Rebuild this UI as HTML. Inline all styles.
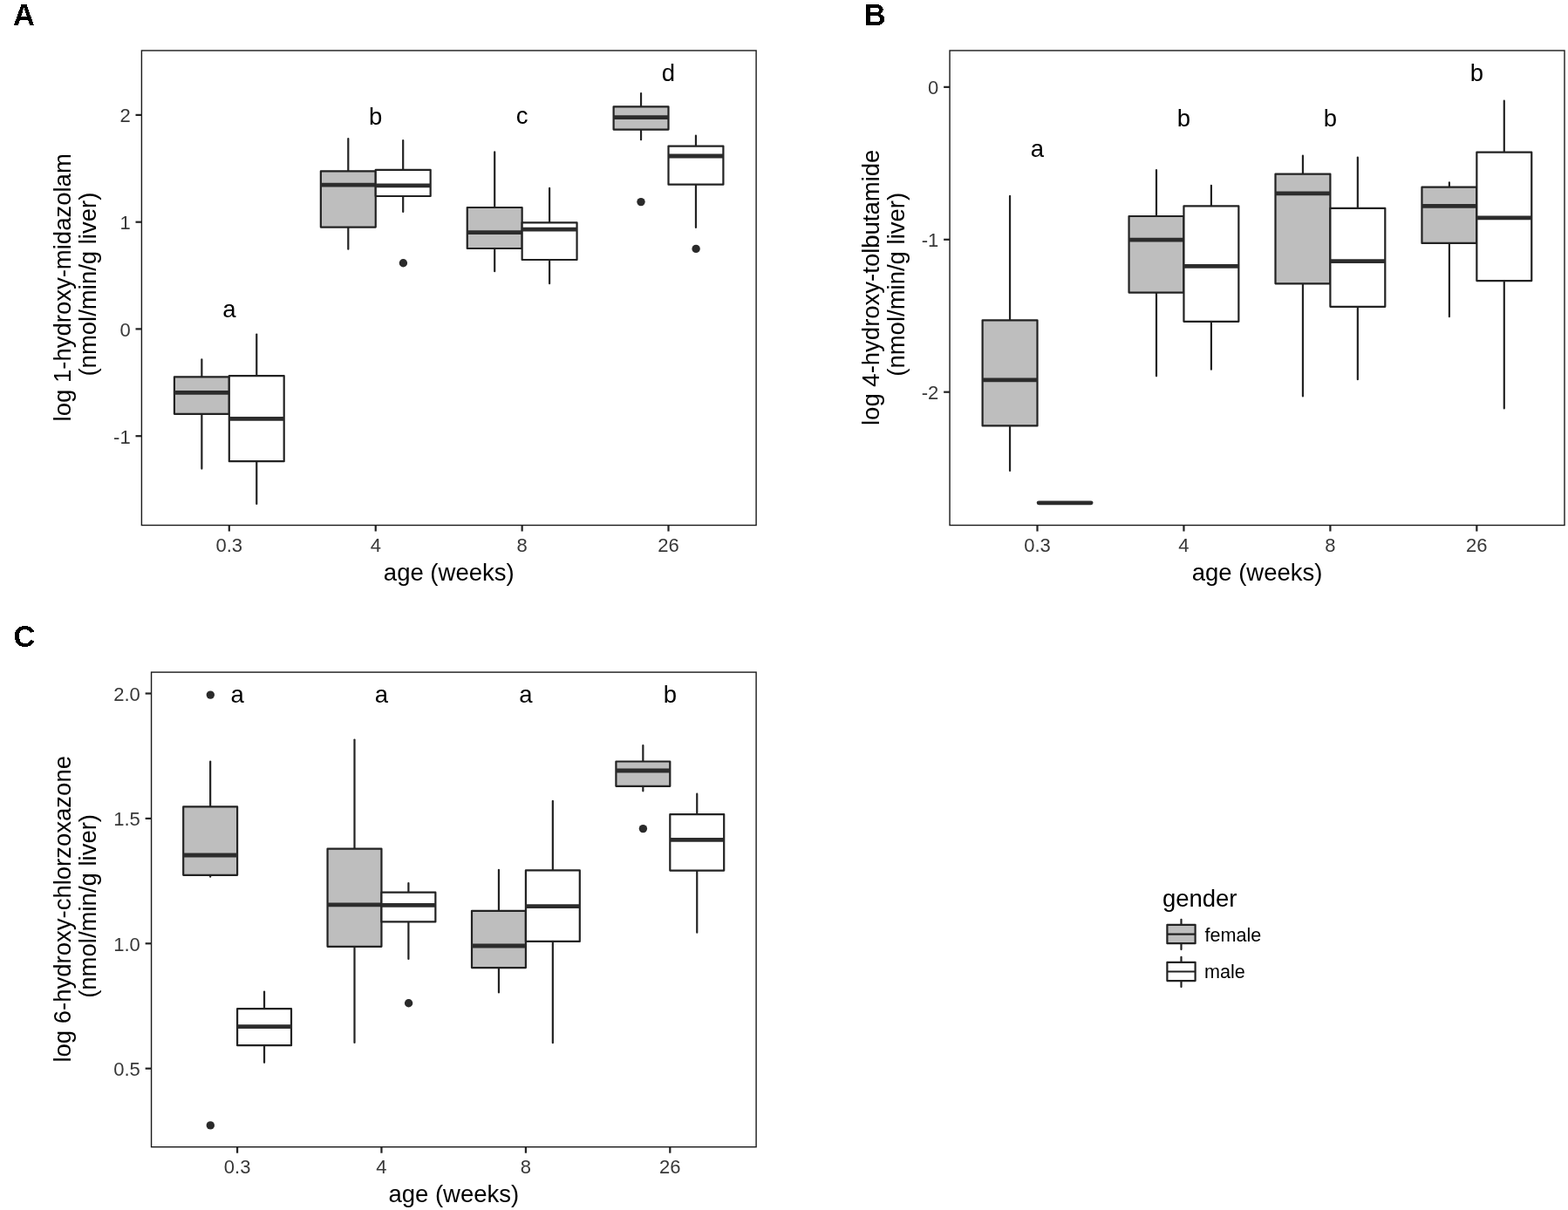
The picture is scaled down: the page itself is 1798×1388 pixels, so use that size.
<!DOCTYPE html>
<html><head><meta charset="utf-8"><title>Boxplots by age and gender</title>
<style>
html,body{margin:0;padding:0;background:#fff;}
svg{display:block;}
svg line, svg rect{stroke:#222222;stroke-width:2.2;}
svg line{stroke-linecap:butt;}
svg line.wh{stroke-linecap:round;}
svg rect{stroke-linejoin:round;}
svg rect.fr{fill:none;stroke-linejoin:miter;stroke:#1a1a1a;stroke-width:1.4;}
svg line.md{stroke-width:4.8;stroke:#2c2c2c;}
svg line.md0{stroke-width:4.8;stroke:#2c2c2c;stroke-linecap:round;}
svg line.lk{stroke-width:2.2;}
svg line.tk{stroke-width:2.2;}
svg circle.pt{fill:#2a2a2a;stroke:none;}
text{font-family:"Liberation Sans",Arial,sans-serif;}
text.yl{font-size:22px;fill:#383838;text-anchor:end;}
text.xl{font-size:22px;fill:#383838;text-anchor:middle;}
text.lt{font-size:27.5px;fill:#000;text-anchor:middle;}
text.ti{font-size:27.5px;fill:#000;text-anchor:middle;}
text.tag{font-size:34.5px;font-weight:bold;fill:#000;filter:url(#alias);}
text.lg{font-size:27.5px;fill:#000;}
text.ll{font-size:21.6px;fill:#000;}
</style></head>
<body>
<svg width="1798" height="1388" viewBox="0 0 1798 1388">
<defs><filter id="alias" x="-10%" y="-10%" width="120%" height="120%"><feComponentTransfer><feFuncA type="discrete" tableValues="0 1"/></feComponentTransfer></filter></defs>
<rect x="0" y="0" width="1798" height="1388" fill="#fff" style="stroke:none"/>
<rect class="fr" x="162.4" y="58.0" width="704.70" height="544.50"/>
<line class="wh" x1="231.35" y1="412.40" x2="231.35" y2="432.40"/>
<line class="wh" x1="231.35" y1="474.80" x2="231.35" y2="537.60"/>
<rect x="199.90" y="432.40" width="62.90" height="42.40" fill="#BEBEBE"/>
<line class="md" x1="199.90" y1="450.40" x2="262.80" y2="450.40"/>
<line class="wh" x1="294.25" y1="383.60" x2="294.25" y2="431.10"/>
<line class="wh" x1="294.25" y1="529.20" x2="294.25" y2="577.90"/>
<rect x="262.80" y="431.10" width="62.90" height="98.10" fill="#FFFFFF"/>
<line class="md" x1="262.80" y1="480.40" x2="325.70" y2="480.40"/>
<line class="wh" x1="399.30" y1="159.00" x2="399.30" y2="196.30"/>
<line class="wh" x1="399.30" y1="260.60" x2="399.30" y2="285.70"/>
<rect x="367.85" y="196.30" width="62.90" height="64.30" fill="#BEBEBE"/>
<line class="md" x1="367.85" y1="212.20" x2="430.75" y2="212.20"/>
<line class="wh" x1="462.20" y1="161.00" x2="462.20" y2="194.80"/>
<line class="wh" x1="462.20" y1="225.00" x2="462.20" y2="242.90"/>
<rect x="430.75" y="194.80" width="62.90" height="30.20" fill="#FFFFFF"/>
<line class="md" x1="430.75" y1="212.90" x2="493.65" y2="212.90"/>
<circle class="pt" cx="462.40" cy="301.80" r="4.7"/>
<line class="wh" x1="567.20" y1="174.40" x2="567.20" y2="238.00"/>
<line class="wh" x1="567.20" y1="285.00" x2="567.20" y2="311.20"/>
<rect x="535.75" y="238.00" width="62.90" height="47.00" fill="#BEBEBE"/>
<line class="md" x1="535.75" y1="266.60" x2="598.65" y2="266.60"/>
<line class="wh" x1="630.10" y1="215.80" x2="630.10" y2="255.30"/>
<line class="wh" x1="630.10" y1="298.00" x2="630.10" y2="325.20"/>
<rect x="598.65" y="255.30" width="62.90" height="42.70" fill="#FFFFFF"/>
<line class="md" x1="598.65" y1="263.10" x2="661.55" y2="263.10"/>
<line class="wh" x1="735.05" y1="107.00" x2="735.05" y2="122.30"/>
<line class="wh" x1="735.05" y1="148.60" x2="735.05" y2="160.20"/>
<rect x="703.60" y="122.30" width="62.90" height="26.30" fill="#BEBEBE"/>
<line class="md" x1="703.60" y1="134.70" x2="766.50" y2="134.70"/>
<circle class="pt" cx="735.00" cy="231.60" r="4.7"/>
<line class="wh" x1="797.95" y1="155.70" x2="797.95" y2="167.60"/>
<line class="wh" x1="797.95" y1="211.70" x2="797.95" y2="261.00"/>
<rect x="766.50" y="167.60" width="62.90" height="44.10" fill="#FFFFFF"/>
<line class="md" x1="766.50" y1="179.00" x2="829.40" y2="179.00"/>
<circle class="pt" cx="798.10" cy="285.40" r="4.7"/>
<line class="tk" x1="155.50" y1="131.90" x2="162.40" y2="131.90"/>
<text class="yl" x="149.65" y="140.40">2</text>
<line class="tk" x1="155.50" y1="254.70" x2="162.40" y2="254.70"/>
<text class="yl" x="149.65" y="263.20">1</text>
<line class="tk" x1="155.50" y1="377.40" x2="162.40" y2="377.40"/>
<text class="yl" x="149.65" y="385.90">0</text>
<line class="tk" x1="155.50" y1="500.20" x2="162.40" y2="500.20"/>
<text class="yl" x="149.65" y="508.70">-1</text>
<line class="tk" x1="262.80" y1="602.50" x2="262.80" y2="609.50"/>
<text class="xl" x="262.80" y="632.60">0.3</text>
<line class="tk" x1="430.75" y1="602.50" x2="430.75" y2="609.50"/>
<text class="xl" x="430.75" y="632.60">4</text>
<line class="tk" x1="598.65" y1="602.50" x2="598.65" y2="609.50"/>
<text class="xl" x="598.65" y="632.60">8</text>
<line class="tk" x1="766.50" y1="602.50" x2="766.50" y2="609.50"/>
<text class="xl" x="766.50" y="632.60">26</text>
<text class="lt" x="262.80" y="363.50">a</text>
<text class="lt" x="430.75" y="142.60">b</text>
<text class="lt" x="598.65" y="142.40">c</text>
<text class="lt" x="766.50" y="93.00">d</text>
<text class="ti" x="514.75" y="666.20">age (weeks)</text>
<text class="ti" transform="translate(80.60,329.80) rotate(-90)">log 1-hydroxy-midazolam</text>
<text class="ti" transform="translate(110.40,326.10) rotate(-90)">(nmol/min/g liver)</text>
<rect class="fr" x="1089.05" y="58.0" width="704.95" height="544.50"/>
<line class="wh" x1="1158.05" y1="224.90" x2="1158.05" y2="367.30"/>
<line class="wh" x1="1158.05" y1="488.40" x2="1158.05" y2="540.00"/>
<rect x="1126.60" y="367.30" width="62.90" height="121.10" fill="#BEBEBE"/>
<line class="md" x1="1126.60" y1="435.80" x2="1189.50" y2="435.80"/>
<rect x="1189.50" y="576.50" width="62.90" height="0.00" fill="#FFFFFF"/>
<line class="md0" x1="1191.10" y1="576.80" x2="1251.10" y2="576.80"/>
<line class="wh" x1="1326.00" y1="195.10" x2="1326.00" y2="248.00"/>
<line class="wh" x1="1326.00" y1="335.60" x2="1326.00" y2="431.30"/>
<rect x="1294.55" y="248.00" width="62.90" height="87.60" fill="#BEBEBE"/>
<line class="md" x1="1294.55" y1="275.20" x2="1357.45" y2="275.20"/>
<line class="wh" x1="1388.90" y1="212.80" x2="1388.90" y2="236.40"/>
<line class="wh" x1="1388.90" y1="368.80" x2="1388.90" y2="423.70"/>
<rect x="1357.45" y="236.40" width="62.90" height="132.40" fill="#FFFFFF"/>
<line class="md" x1="1357.45" y1="305.30" x2="1420.35" y2="305.30"/>
<line class="wh" x1="1493.95" y1="178.70" x2="1493.95" y2="199.60"/>
<line class="wh" x1="1493.95" y1="325.30" x2="1493.95" y2="454.40"/>
<rect x="1462.50" y="199.60" width="62.90" height="125.70" fill="#BEBEBE"/>
<line class="md" x1="1462.50" y1="221.90" x2="1525.40" y2="221.90"/>
<line class="wh" x1="1556.85" y1="180.60" x2="1556.85" y2="238.80"/>
<line class="wh" x1="1556.85" y1="351.80" x2="1556.85" y2="435.20"/>
<rect x="1525.40" y="238.80" width="62.90" height="113.00" fill="#FFFFFF"/>
<line class="md" x1="1525.40" y1="299.70" x2="1588.30" y2="299.70"/>
<line class="wh" x1="1661.90" y1="209.40" x2="1661.90" y2="214.70"/>
<line class="wh" x1="1661.90" y1="278.90" x2="1661.90" y2="363.20"/>
<rect x="1630.45" y="214.70" width="62.90" height="64.20" fill="#BEBEBE"/>
<line class="md" x1="1630.45" y1="236.40" x2="1693.35" y2="236.40"/>
<line class="wh" x1="1724.80" y1="115.70" x2="1724.80" y2="174.60"/>
<line class="wh" x1="1724.80" y1="322.10" x2="1724.80" y2="468.40"/>
<rect x="1693.35" y="174.60" width="62.90" height="147.50" fill="#FFFFFF"/>
<line class="md" x1="1693.35" y1="249.90" x2="1756.25" y2="249.90"/>
<line class="tk" x1="1082.15" y1="99.85" x2="1089.05" y2="99.85"/>
<text class="yl" x="1076.30" y="108.35">0</text>
<line class="tk" x1="1082.15" y1="274.80" x2="1089.05" y2="274.80"/>
<text class="yl" x="1076.30" y="283.30">-1</text>
<line class="tk" x1="1082.15" y1="449.70" x2="1089.05" y2="449.70"/>
<text class="yl" x="1076.30" y="458.20">-2</text>
<line class="tk" x1="1189.50" y1="602.50" x2="1189.50" y2="609.50"/>
<text class="xl" x="1189.50" y="632.60">0.3</text>
<line class="tk" x1="1357.45" y1="602.50" x2="1357.45" y2="609.50"/>
<text class="xl" x="1357.45" y="632.60">4</text>
<line class="tk" x1="1525.40" y1="602.50" x2="1525.40" y2="609.50"/>
<text class="xl" x="1525.40" y="632.60">8</text>
<line class="tk" x1="1693.35" y1="602.50" x2="1693.35" y2="609.50"/>
<text class="xl" x="1693.35" y="632.60">26</text>
<text class="lt" x="1189.50" y="180.30">a</text>
<text class="lt" x="1357.45" y="145.20">b</text>
<text class="lt" x="1525.40" y="145.20">b</text>
<text class="lt" x="1693.35" y="93.00">b</text>
<text class="ti" x="1441.53" y="666.20">age (weeks)</text>
<text class="ti" transform="translate(1007.50,329.80) rotate(-90)">log 4-hydroxy-tolbutamide</text>
<text class="ti" transform="translate(1037.00,326.30) rotate(-90)">(nmol/min/g liver)</text>
<rect class="fr" x="173.55" y="771.1" width="693.55" height="544.60"/>
<line class="wh" x1="241.15" y1="873.50" x2="241.15" y2="925.40"/>
<line class="wh" x1="241.15" y1="1003.80" x2="241.15" y2="1005.70"/>
<rect x="210.20" y="925.40" width="61.90" height="78.40" fill="#BEBEBE"/>
<line class="md" x1="210.20" y1="981.00" x2="272.10" y2="981.00"/>
<circle class="pt" cx="241.30" cy="797.10" r="4.7"/>
<circle class="pt" cx="241.30" cy="1290.90" r="4.7"/>
<line class="wh" x1="303.05" y1="1137.60" x2="303.05" y2="1157.20"/>
<line class="wh" x1="303.05" y1="1199.20" x2="303.05" y2="1218.80"/>
<rect x="272.10" y="1157.20" width="61.90" height="42.00" fill="#FFFFFF"/>
<line class="md" x1="272.10" y1="1177.60" x2="334.00" y2="1177.60"/>
<line class="wh" x1="406.50" y1="848.60" x2="406.50" y2="973.60"/>
<line class="wh" x1="406.50" y1="1085.80" x2="406.50" y2="1195.90"/>
<rect x="375.55" y="973.60" width="61.90" height="112.20" fill="#BEBEBE"/>
<line class="md" x1="375.55" y1="1037.80" x2="437.45" y2="1037.80"/>
<line class="wh" x1="468.40" y1="1013.10" x2="468.40" y2="1023.70"/>
<line class="wh" x1="468.40" y1="1057.40" x2="468.40" y2="1099.90"/>
<rect x="437.45" y="1023.70" width="61.90" height="33.70" fill="#FFFFFF"/>
<line class="md" x1="437.45" y1="1038.40" x2="499.35" y2="1038.40"/>
<circle class="pt" cx="468.60" cy="1150.80" r="4.7"/>
<line class="wh" x1="571.95" y1="997.80" x2="571.95" y2="1044.80"/>
<line class="wh" x1="571.95" y1="1110.10" x2="571.95" y2="1138.50"/>
<rect x="541.00" y="1044.80" width="61.90" height="65.30" fill="#BEBEBE"/>
<line class="md" x1="541.00" y1="1085.00" x2="602.90" y2="1085.00"/>
<line class="wh" x1="633.85" y1="918.90" x2="633.85" y2="998.30"/>
<line class="wh" x1="633.85" y1="1079.90" x2="633.85" y2="1196.20"/>
<rect x="602.90" y="998.30" width="61.90" height="81.60" fill="#FFFFFF"/>
<line class="md" x1="602.90" y1="1039.70" x2="664.80" y2="1039.70"/>
<line class="wh" x1="737.35" y1="855.10" x2="737.35" y2="873.50"/>
<line class="wh" x1="737.35" y1="901.80" x2="737.35" y2="907.30"/>
<rect x="706.40" y="873.50" width="61.90" height="28.30" fill="#BEBEBE"/>
<line class="md" x1="706.40" y1="884.00" x2="768.30" y2="884.00"/>
<circle class="pt" cx="737.40" cy="950.60" r="4.7"/>
<line class="wh" x1="799.25" y1="910.70" x2="799.25" y2="934.20"/>
<line class="wh" x1="799.25" y1="998.60" x2="799.25" y2="1069.70"/>
<rect x="768.30" y="934.20" width="61.90" height="64.40" fill="#FFFFFF"/>
<line class="md" x1="768.30" y1="963.30" x2="830.20" y2="963.30"/>
<line class="tk" x1="166.65" y1="795.50" x2="173.55" y2="795.50"/>
<text class="yl" x="160.80" y="804.00">2.0</text>
<line class="tk" x1="166.65" y1="938.90" x2="173.55" y2="938.90"/>
<text class="yl" x="160.80" y="947.40">1.5</text>
<line class="tk" x1="166.65" y1="1082.30" x2="173.55" y2="1082.30"/>
<text class="yl" x="160.80" y="1090.80">1.0</text>
<line class="tk" x1="166.65" y1="1225.70" x2="173.55" y2="1225.70"/>
<text class="yl" x="160.80" y="1234.20">0.5</text>
<line class="tk" x1="272.10" y1="1315.70" x2="272.10" y2="1322.70"/>
<text class="xl" x="272.10" y="1345.80">0.3</text>
<line class="tk" x1="437.45" y1="1315.70" x2="437.45" y2="1322.70"/>
<text class="xl" x="437.45" y="1345.80">4</text>
<line class="tk" x1="602.90" y1="1315.70" x2="602.90" y2="1322.70"/>
<text class="xl" x="602.90" y="1345.80">8</text>
<line class="tk" x1="768.30" y1="1315.70" x2="768.30" y2="1322.70"/>
<text class="xl" x="768.30" y="1345.80">26</text>
<text class="lt" x="272.10" y="805.80">a</text>
<text class="lt" x="437.45" y="805.80">a</text>
<text class="lt" x="602.90" y="805.80">a</text>
<text class="lt" x="768.30" y="805.80">b</text>
<text class="ti" x="520.33" y="1379.40">age (weeks)</text>
<text class="ti" transform="translate(80.60,1042.80) rotate(-90)">log 6-hydroxy-chlorzoxazone</text>
<text class="ti" transform="translate(110.40,1039.40) rotate(-90)">(nmol/min/g liver)</text>
<text class="tag" x="15.1" y="29">A</text>
<text class="tag" x="990.8" y="29">B</text>
<text class="tag" x="15.6" y="741.7">C</text>
<text class="lg" x="1332.9" y="1040">gender</text>
<line class="wh" x1="1354.50" y1="1054.80" x2="1354.50" y2="1060.8"/><line class="wh" x1="1354.50" y1="1082.2" x2="1354.50" y2="1089.10"/><rect x="1338.4" y="1060.8" width="32.20" height="21.40" fill="#BEBEBE"/><line x1="1338.4" y1="1071.7" x2="1370.6" y2="1071.7"/>
<line class="wh" x1="1354.50" y1="1097.80" x2="1354.50" y2="1103.8"/><line class="wh" x1="1354.50" y1="1125.1" x2="1354.50" y2="1132.10"/><rect x="1338.4" y="1103.8" width="32.20" height="21.30" fill="#FFFFFF"/><line x1="1338.4" y1="1114.5" x2="1370.6" y2="1114.5"/>
<text class="ll" x="1381.5" y="1079.8">female</text>
<text class="ll" x="1380.9" y="1121.9">male</text>
</svg>
</body></html>
